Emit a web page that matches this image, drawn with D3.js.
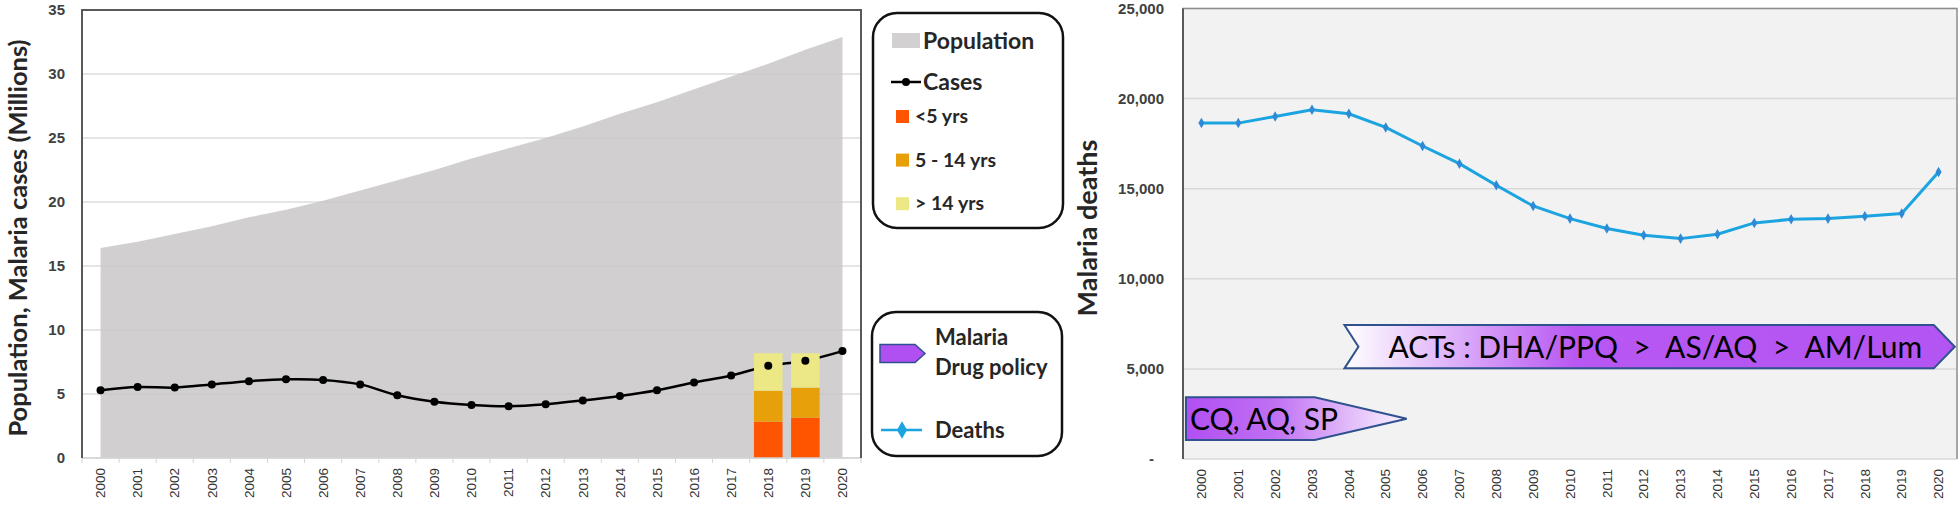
<!DOCTYPE html>
<html>
<head>
<meta charset="utf-8">
<script src="https://cdn.jsdelivr.net/npm/d3@7/dist/d3.min.js"></script>
<style>
    body { margin: 0; background: #fff; }
    svg { display: block; font-family: Lato, "Open Sans", sans-serif; }
    .tick text { fill: #404040; font-weight: 700; }
    .legend text { fill: #262626; font-weight: 700; }
</style>
</head>
<body>
<svg width="1960" height="505"></svg>

<script>
// ---- data ----
const years = d3.range(2000, 2021).map(String);

const population = [16.4, 16.9, 17.5, 18.1, 18.8, 19.4, 20.1, 20.9, 21.7, 22.5,
                    23.4, 24.2, 25.0, 25.9, 26.9, 27.8, 28.8, 29.8, 30.8, 31.9, 32.9];

const cases = [5.3, 5.55, 5.5, 5.75, 6.0, 6.15, 6.1, 5.75, 4.9, 4.4,
               4.15, 4.05, 4.2, 4.5, 4.85, 5.3, 5.9, 6.45, 7.2, 7.6, 8.35];

const barYears = ["2018", "2019"];
const under5 = [2.84, 3.15];
const age5to14 = [2.42, 2.35];
const over14 = [2.92, 2.68];

const deaths = [18640, 18640, 19010, 19380, 19160, 18400, 17370, 16390, 15190, 14040,
                13340, 12790, 12420, 12230, 12470, 13100, 13300, 13340, 13470, 13620, 15930];

const leftTicks = [0, 5, 10, 15, 20, 25, 30, 35];
const rightTicks = [0, 5000, 10000, 15000, 20000, 25000];

const policyLabels = ["CQ, AQ, SP", "ACTs : DHA/PPQ  >  AS/AQ  >  AM/Lum"];
const policyFrom = [1999.58, 2003.88];
const policyTo = [2005.57, 2020.44];

const ageLabels = ["<5 yrs", "5 - 14 yrs", "> 14 yrs"];
const ageColors = ["#ff5500", "#e8a00a", "#ede886"];

const svg = d3.select("svg");

// ================= left chart =================
const xL = d3.scaleBand().domain(years).range([82, 861]);
const yL = d3.scaleLinear().domain([0, 35]).range([458, 10]);
const cx = d => xL(d) + xL.bandwidth() / 2;

const left = svg.append("g");

left.append("g")
    .selectAll("line")
    .data(leftTicks)
    .enter()
    .append("line")
        .attr("x1", 82).attr("x2", 861)
        .attr("y1", yL).attr("y2", yL)
        .attr("stroke", "#dcdcdc")
        .attr("stroke-width", 1.5);

left.append("path")
    .datum(population)
    .attr("fill", "#c9c7c8")
    .attr("fill-opacity", 0.85)
    .attr("d", d3.area()
        .x((d, i) => cx(years[i]))
        .y0(yL(0))
        .y1(d => yL(d)));

left.append("path")
    .datum(cases)
    .attr("fill", "none")
    .attr("stroke", "#000")
    .attr("stroke-width", 2.5)
    .attr("d", d3.line()
        .x((d, i) => cx(years[i]))
        .y(d => yL(d))
        .curve(d3.curveCatmullRom.alpha(0.5)));

// stacked age bars
const stackRows = barYears.map((y, i) => ({year: y, a: under5[i], b: age5to14[i], c: over14[i]}));
const stacked = d3.stack().keys(["a", "b", "c"])(stackRows);
const xBar = d3.scaleBand().domain(years).range([82, 861]).paddingInner(0.23).paddingOuter(0.115);

left.append("g")
    .selectAll("g")
    .data(stacked)
    .enter()
    .append("g")
        .attr("fill", (d, i) => ageColors[i])
    .selectAll("rect")
    .data(d => d)
    .enter()
    .append("rect")
        .attr("x", d => xBar(d.data.year))
        .attr("width", xBar.bandwidth())
        .attr("y", d => yL(d[1]))
        .attr("height", d => yL(d[0]) - yL(d[1]));

left.append("g")
    .selectAll("circle")
    .data(cases)
    .enter()
    .append("circle")
        .attr("cx", (d, i) => cx(years[i]))
        .attr("cy", d => yL(d))
        .attr("r", 4)
        .attr("fill", "#000");

// frame
left.append("line").attr("x1", 82).attr("x2", 861).attr("y1", 458).attr("y2", 458)
    .attr("stroke", "#d4d4d4").attr("stroke-width", 1.5);
left.append("g")
    .selectAll("line")
    .data(years.concat(["end"]))
    .enter()
    .append("line")
        .attr("x1", d => d === "end" ? 861 : xL(d))
        .attr("x2", d => d === "end" ? 861 : xL(d))
        .attr("y1", 458).attr("y2", 463)
        .attr("stroke", "#d4d4d4");
left.append("path")
    .attr("d", "M82,458V10H861V458")
    .attr("fill", "none")
    .attr("stroke", "#595959")
    .attr("stroke-width", 2);

left.append("g")
    .attr("transform", "translate(82,0)")
    .call(d3.axisLeft(yL).tickValues(leftTicks).tickSize(0).tickPadding(17))
    .call(g => g.select(".domain").remove())
    .selectAll("text").style("font-size", "15px");

left.append("g")
    .attr("transform", "translate(0,458)")
    .call(d3.axisBottom(xL).tickSize(0))
    .call(g => g.select(".domain").remove())
    .selectAll("text")
        .style("font-size", "13.5px")
        .style("font-weight", 400)
        .style("fill", "#333")
        .attr("text-anchor", "end")
        .attr("transform", "rotate(-90)")
        .attr("x", -10).attr("y", 0).attr("dy", "0.35em");

left.append("text")
    .attr("transform", "translate(27,238) rotate(-90)")
    .attr("text-anchor", "middle")
    .style("font-size", "25.5px")
    .style("font-weight", 700)
    .attr("fill", "#262626")
    .text("Population, Malaria cases (Millions)");

// ================= legends =================
const leg1 = svg.append("g").attr("class", "legend");
leg1.append("rect")
    .attr("x", 873).attr("y", 13).attr("width", 190).attr("height", 215).attr("rx", 24)
    .attr("fill", "#fff").attr("stroke", "#111").attr("stroke-width", 2.5);
leg1.append("rect").attr("x", 892).attr("y", 33).attr("width", 28).attr("height", 15).attr("fill", "#d2d0d1");
leg1.append("text").attr("x", 923).attr("y", 49).style("font-size", "23px").text("Population");
leg1.append("line").attr("x1", 891).attr("x2", 921).attr("y1", 82).attr("y2", 82)
    .attr("stroke", "#000").attr("stroke-width", 2.5);
leg1.append("circle").attr("cx", 906).attr("cy", 82).attr("r", 4).attr("fill", "#000");
leg1.append("text").attr("x", 923).attr("y", 90).style("font-size", "23px").text("Cases");
ageLabels.forEach((lab, i) => {
    const top = 110 + i * 43.6;
    leg1.append("rect").attr("x", 896).attr("y", top).attr("width", 13).attr("height", 13).attr("fill", ageColors[i]);
    leg1.append("text").attr("x", 915).attr("y", top + 13).style("font-size", "19.5px").text(lab);
});

const leg2 = svg.append("g").attr("class", "legend");
leg2.append("rect")
    .attr("x", 872).attr("y", 312).attr("width", 190).attr("height", 144).attr("rx", 24)
    .attr("fill", "#fff").attr("stroke", "#111").attr("stroke-width", 2.5);
leg2.append("path")
    .attr("d", "M880,344.5H915L925,353.5L915,362.5H880Z")
    .attr("fill", "#b04ff2").attr("stroke", "#2f528f").attr("stroke-width", 1.5);
leg2.append("text").attr("x", 935).attr("y", 345).style("font-size", "22px").text("Malaria");
leg2.append("text").attr("x", 935).attr("y", 375).style("font-size", "22px").text("Drug policy");
leg2.append("line").attr("x1", 881).attr("x2", 922).attr("y1", 430).attr("y2", 430)
    .attr("stroke", "#1ba4e0").attr("stroke-width", 2.5);
leg2.append("path")
    .attr("transform", "translate(902,430)")
    .attr("d", d3.symbol(d3.symbolDiamond, 90)())
    .attr("fill", "#1ba4e0");
leg2.append("text").attr("x", 935).attr("y", 438).style("font-size", "22px").text("Deaths");

// ================= right chart =================
const xR = d3.scaleBand().domain(years).range([1183, 1957]);
const yR = d3.scaleLinear().domain([0, 25000]).range([459, 8.5]);
const cxR = d => xR(d) + xR.bandwidth() / 2;
const yearX = d3.scaleLinear().domain([2000, 2020]).range([cxR("2000"), cxR("2020")]);

const right = svg.append("g");
right.append("rect")
    .attr("x", 1183).attr("y", 8.5).attr("width", 774).attr("height", 450.5)
    .attr("fill", "#f2f2f2");

right.append("g")
    .selectAll("line")
    .data(rightTicks)
    .enter()
    .append("line")
        .attr("x1", 1183).attr("x2", 1957)
        .attr("y1", yR).attr("y2", yR)
        .attr("stroke", "#d9d9d9")
        .attr("stroke-width", 1.5);

right.append("path")
    .attr("d", "M1183,459V8.5H1957V459")
    .attr("fill", "none")
    .attr("stroke", "#8c8c8c")
    .attr("stroke-width", 1.5);
right.append("line").attr("x1", 1183).attr("x2", 1183).attr("y1", 8.5).attr("y2", 459)
    .attr("stroke", "#595959").attr("stroke-width", 2);

// drug policy arrows
const defs = svg.append("defs");
const g1 = defs.append("linearGradient").attr("id", "gradCQ");
g1.append("stop").attr("offset", "0%").attr("stop-color", "#b14ff2");
g1.append("stop").attr("offset", "40%").attr("stop-color", "#c070f3");
g1.append("stop").attr("offset", "100%").attr("stop-color", "#fbf5ff");
const g2 = defs.append("linearGradient").attr("id", "gradACT");
g2.append("stop").attr("offset", "0%").attr("stop-color", "#ffffff");
g2.append("stop").attr("offset", "38%").attr("stop-color", "#b857f2");
g2.append("stop").attr("offset", "100%").attr("stop-color", "#b355f3");

const arrowTop = [yR(3420), yR(7430)];
const arrowBot = [yR(1050), yR(5030)];
const tipDepth = [92, 21];
const notchDepth = [0, 14];
const arrowFill = ["url(#gradCQ)", "url(#gradACT)"];

policyLabels.forEach((lab, i) => {
    const x0 = yearX(policyFrom[i]), x1 = yearX(policyTo[i]);
    const t = arrowTop[i], b = arrowBot[i], m = (t + b) / 2;
    const path = d3.path();
    path.moveTo(x0, t);
    path.lineTo(x1 - tipDepth[i], t);
    path.lineTo(x1, m);
    path.lineTo(x1 - tipDepth[i], b);
    path.lineTo(x0, b);
    path.lineTo(x0 + notchDepth[i], m);
    path.closePath();
    right.append("path")
        .attr("d", path.toString())
        .attr("fill", arrowFill[i])
        .attr("stroke", "#2f528f")
        .attr("stroke-width", 2);
    right.append("text")
        .attr("x", i === 0 ? x0 + 4 : x0 + 44)
        .attr("y", m + 11)
        .style("font-size", "30px")
        .style("white-space", "pre")
        .attr("fill", "#000")
        .text(lab);
});

right.append("path")
    .datum(deaths)
    .attr("fill", "none")
    .attr("stroke", "#1ba4e0")
    .attr("stroke-width", 3)
    .attr("d", d3.line()
        .x((d, i) => cxR(years[i]))
        .y(d => yR(d)));

right.append("g")
    .selectAll("path")
    .data(deaths)
    .enter()
    .append("path")
        .attr("transform", (d, i) => `translate(${cxR(years[i])},${yR(d)})`)
        .attr("d", d3.symbol(d3.symbolDiamond, 32)())
        .attr("fill", "#2f8ad6");

right.append("g")
    .attr("transform", "translate(1183,0)")
    .call(d3.axisLeft(yR).tickValues(rightTicks).tickSize(0).tickPadding(19)
        .tickFormat(d => d === 0 ? "-" : d3.format(",")(d)))
    .call(g => g.select(".domain").remove())
    .selectAll("text")
        .style("font-size", "15px")
        .attr("dx", d => d === 0 ? -10 : 0);

right.append("g")
    .attr("transform", "translate(0,459)")
    .call(d3.axisBottom(xR).tickSize(0))
    .call(g => g.select(".domain").remove())
    .selectAll("text")
        .style("font-size", "13.5px")
        .style("font-weight", 400)
        .style("fill", "#333")
        .attr("text-anchor", "end")
        .attr("transform", "rotate(-90)")
        .attr("x", -10).attr("y", 0).attr("dy", "0.35em");

right.append("text")
    .attr("transform", "translate(1097,228) rotate(-90)")
    .attr("text-anchor", "middle")
    .style("font-size", "27px")
    .style("font-weight", 700)
    .attr("fill", "#262626")
    .text("Malaria deaths");
</script>
</body>
</html>
